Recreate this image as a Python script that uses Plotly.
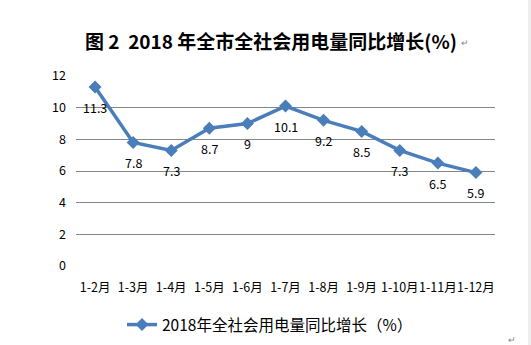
import plotly.graph_objects as go

categories = ["1-2月", "1-3月", "1-4月", "1-5月", "1-6月", "1-7月", "1-8月", "1-9月", "1-10月", "1-11月", "1-12月"]
growth = [11.3, 7.8, 7.3, 8.7, 9, 10.1, 9.2, 8.5, 7.3, 6.5, 5.9]
series_name = "2018年全社会用电量同比增长（%）"
title_text = "图 2  2018 年全市全社会用电量同比增长(%)"
y_ticks = [0, 2, 4, 6, 8, 10, 12]

BLUE = "#4A7EBB"
FONT = "Noto Sans CJK SC"

L, R, T, B = 76, 36, 76, 79
W, H = 531, 345
PW, PH = W - L - R, H - T - B


def px(x):
    return (x - L) / PW


def py(y):
    return (H - B - y) / PH


fig = go.Figure()
fig.add_trace(go.Scatter(
    x=categories, y=growth, mode="lines+markers", name=series_name,
    line=dict(color=BLUE, width=3.5),
    marker=dict(symbol="diamond", size=10, color=BLUE),
))

annotations = []
for c, v in zip(categories, growth):
    annotations.append(dict(
        x=c, y=v, xref="x", yref="y", text=f"{v:g}", showarrow=False,
        yshift=-20, font=dict(family=FONT, size=12.5, color="#000000"),
    ))
annotations.append(dict(
    x=px(271), y=py(40), xref="paper", yref="paper",
    text="<b>" + title_text + "</b>", showarrow=False,
    font=dict(family=FONT, size=19, color="#000000"),
    xanchor="center", yanchor="middle",
))
annotations.append(dict(
    x=px(465), y=py(43), xref="paper", yref="paper",
    text="↵", showarrow=False, font=dict(family=FONT, size=9, color="#888888"),
    xanchor="center", yanchor="middle",
))
annotations.append(dict(
    x=px(512), y=py(339), xref="paper", yref="paper",
    text="↵", showarrow=False, font=dict(family=FONT, size=9, color="#888888"),
    xanchor="center", yanchor="middle",
))

fig.update_layout(
    width=W, height=H,
    margin=dict(l=L, r=R, t=T, b=B),
    paper_bgcolor="white", plot_bgcolor="white",
    font=dict(family=FONT, size=12, color="#000000"),
    showlegend=True,
    legend=dict(
        orientation="h", xref="container", yref="container",
        x=270 / W, y=1 - 325 / H, xanchor="center", yanchor="middle",
        font=dict(family=FONT, size=15.5, color="#000000"),
        itemwidth=30,
    ),
    annotations=annotations,
    shapes=[dict(
        type="rect", xref="paper", yref="paper", x0=px(528), x1=px(531),
        y0=py(H), y1=py(0), fillcolor="#EEEEEE", line=dict(width=0),
    )],
)
fig.update_xaxes(
    type="category", showgrid=False, zeroline=False, showline=False,
    ticks="", tickfont=dict(family=FONT, size=12.5), tickangle=0,
    range=[-0.5, 10.5], ticklabelstandoff=12,
)
fig.update_yaxes(
    range=[0, 12], tickvals=y_ticks, showgrid=True, gridcolor="#868686",
    gridwidth=1, zeroline=False, showline=False, ticks="",
    tickfont=dict(family=FONT, size=12.5), ticklabelstandoff=9,
)

fig.write_html("out.html")
